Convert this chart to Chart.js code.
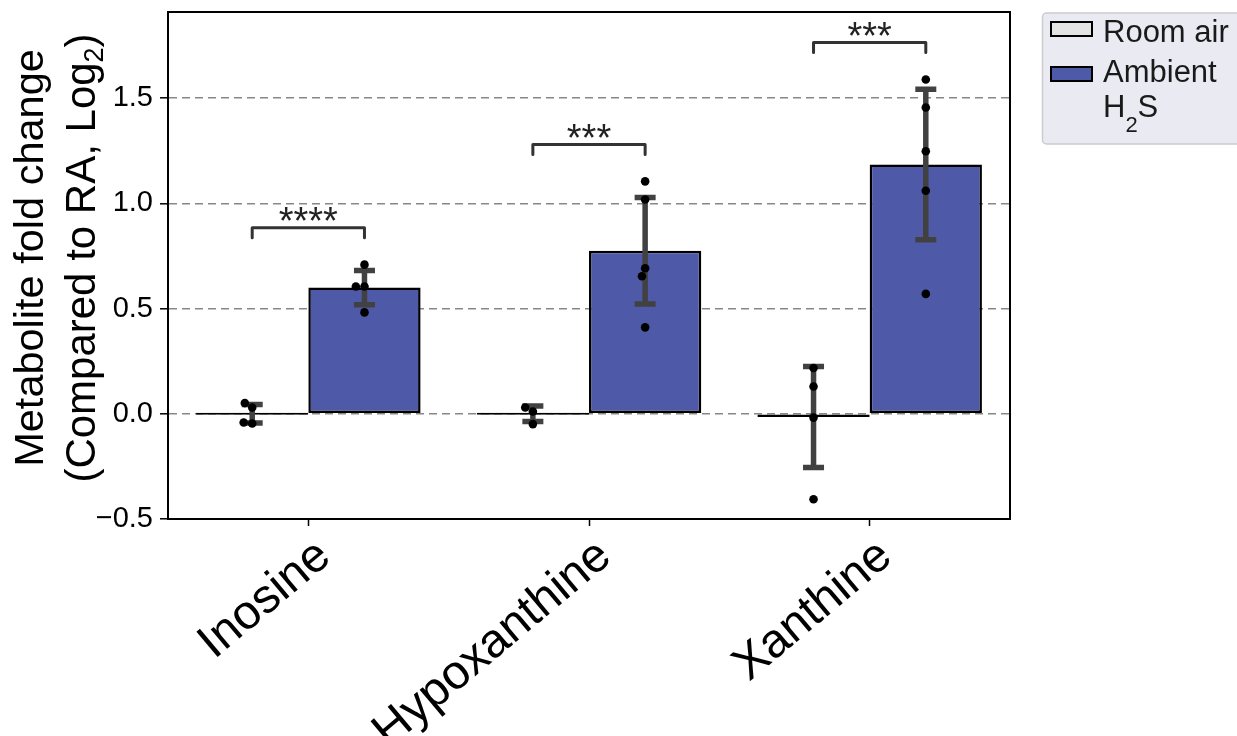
<!DOCTYPE html>
<html><head><meta charset="utf-8">
<script src="https://cdn.jsdelivr.net/npm/chart.js@4.4.1/dist/chart.umd.min.js"></script>
<style>html,body{margin:0;padding:0;background:#fff;}#wrap{width:1237px;height:736px;position:relative;overflow:hidden;}</style>
</head><body><div id="wrap"><canvas id="c" width="1237" height="736"></canvas></div>
<script>
const categories = ['Inosine', 'Hypoxanthine', 'Xanthine'];
const seriesNames = ['Room air', 'Ambient'];
const roomAirMean = [0.0, 0.0, -0.015];
const ambientMean = [0.60, 0.775, 1.185];
const roomAirErr = [0.044, 0.037, 0.24];
const ambientErr = [0.081, 0.253, 0.358];
const roomAirPoints = [[0.030, 0.051, -0.046, -0.041], [0.011, 0.030, -0.049], [0.218, 0.130, -0.018, -0.406]];
const ambientPoints = [[0.709, 0.605, 0.605, 0.482], [1.105, 1.019, 0.692, 0.654, 0.411], [1.589, 1.456, 1.248, 1.060, 0.570]];
const bracketLevels = [0.884, 1.28, 1.765];
const bracketLabels = ['****', '***', '***'];
const yTicks = [-0.5, 0.0, 0.5, 1.0, 1.5];
const yMin = -0.5, yMax = 1.91;

const FONT = 'Liberation Sans, Arial, sans-serif';
const colRoom = '#e3e3e3', colAmb = '#4e5aa8';

function fmt(v) { return (v < 0 ? '\u2212' : '') + Math.abs(v).toFixed(1); }

function swarm(ys, r) {
  const placed = [];
  const out = [];
  ys.forEach(y => {
    const cands = [0];
    for (const p of placed) {
      const dy = Math.abs(p.y - y);
      if (dy < 2 * r) { const dx = Math.sqrt(4 * r * r - dy * dy); cands.push(p.x - dx, p.x + dx); }
    }
    cands.sort((a, b) => Math.abs(a) - Math.abs(b) || a - b);
    let x = 0;
    for (const c of cands) {
      if (placed.every(p => (p.x - c) ** 2 + (p.y - y) ** 2 >= 4 * r * r - 0.01)) { x = c; break; }
    }
    placed.push({x, y}); out.push(x);
  });
  return out;
}

const overlay = {
  id: 'overlay',
  afterDatasetsDraw(chart) {
    const ctx = chart.ctx, ys = chart.scales.y, area = chart.chartArea;
    const groups = [[roomAirMean, roomAirErr, roomAirPoints], [ambientMean, ambientErr, ambientPoints]];
    groups.forEach((g, di) => {
      const meta = chart.getDatasetMeta(di);
      g[0].forEach((m, i) => {
        const x = meta.data[i].x;
        const yt = ys.getPixelForValue(m + g[1][i]), yb = ys.getPixelForValue(m - g[1][i]);
        ctx.save();
        ctx.strokeStyle = '#414141'; ctx.lineWidth = 5.5; ctx.lineCap = 'butt';
        ctx.beginPath(); ctx.moveTo(x, yt); ctx.lineTo(x, yb); ctx.stroke();
        ctx.beginPath(); ctx.moveTo(x - 10.5, yt); ctx.lineTo(x + 10.5, yt); ctx.moveTo(x - 10.5, yb); ctx.lineTo(x + 10.5, yb); ctx.stroke();
        const py = g[2][i].map(v => ys.getPixelForValue(v));
        const offs = swarm(py, 4.3);
        ctx.fillStyle = '#000';
        py.forEach((p, k) => { ctx.beginPath(); ctx.arc(x + offs[k], p, 4.3, 0, Math.PI * 2); ctx.fill(); });
        ctx.restore();
      });
    });
    // significance brackets
    const m0 = chart.getDatasetMeta(0), m1 = chart.getDatasetMeta(1);
    bracketLevels.forEach((lv, i) => {
      const x1 = m0.data[i].x, x2 = m1.data[i].x, y = ys.getPixelForValue(lv);
      ctx.save();
      ctx.strokeStyle = '#333'; ctx.lineWidth = 3; ctx.lineJoin = 'round'; ctx.lineCap = 'round';
      ctx.beginPath(); ctx.moveTo(x1, y + 10); ctx.lineTo(x1, y); ctx.lineTo(x2, y); ctx.lineTo(x2, y + 10); ctx.stroke();
      ctx.fillStyle = '#222'; ctx.font = '38px ' + FONT; ctx.textAlign = 'center'; ctx.textBaseline = 'alphabetic';
      ctx.fillText(bracketLabels[i], (x1 + x2) / 2, y + 6);
      ctx.restore();
    });
    // frame top/right
    ctx.save(); ctx.strokeStyle = '#000'; ctx.lineWidth = 2;
    ctx.beginPath(); ctx.moveTo(area.left - 1, area.top); ctx.lineTo(area.right, area.top); ctx.lineTo(area.right, area.bottom + 1); ctx.stroke();
    ctx.restore();
  },
  afterDraw(chart) {
    const ctx = chart.ctx;
    // y axis title
    ctx.save();
    ctx.fillStyle = '#000'; ctx.textBaseline = 'alphabetic';
    ctx.translate(43, 258); ctx.rotate(-Math.PI / 2);
    ctx.font = '41.5px ' + FONT; ctx.textAlign = 'center';
    ctx.fillText('Metabolite fold change', 0, 0);
    ctx.restore();
    ctx.save();
    ctx.fillStyle = '#000'; ctx.textBaseline = 'alphabetic';
    ctx.translate(95, 258); ctx.rotate(-Math.PI / 2);
    const a = '(Compared to RA, Log', s = '2', b = ')';
    ctx.font = '42px ' + FONT; const wa = ctx.measureText(a).width, wb = ctx.measureText(b).width;
    ctx.font = '27px ' + FONT; const ws = ctx.measureText(s).width;
    let x0 = -(wa + ws + wb) / 2;
    ctx.textAlign = 'left';
    ctx.font = '42px ' + FONT; ctx.fillText(a, x0, 0);
    ctx.font = '27px ' + FONT; ctx.fillText(s, x0 + wa, 8);
    ctx.font = '42px ' + FONT; ctx.fillText(b, x0 + wa + ws, 0);
    ctx.restore();
    // legend
    ctx.save();
    ctx.fillStyle = '#eaeaf2'; ctx.strokeStyle = '#cccccc'; ctx.lineWidth = 1.5;
    ctx.beginPath(); ctx.roundRect(1042.5, 13, 240, 131, 4); ctx.fill(); ctx.stroke();
    ctx.lineWidth = 2; ctx.strokeStyle = '#000';
    ctx.fillStyle = colRoom; ctx.fillRect(1051, 22, 41, 14); ctx.strokeRect(1051, 22, 41, 14);
    ctx.fillStyle = colAmb; ctx.fillRect(1051, 67, 41, 14); ctx.strokeRect(1051, 67, 41, 14);
    ctx.fillStyle = '#1a1a1a'; ctx.textAlign = 'left'; ctx.textBaseline = 'alphabetic';
    ctx.font = '31px ' + FONT;
    ctx.fillText(seriesNames[0], 1103, 42);
    ctx.fillText(seriesNames[1], 1103, 82);
    ctx.fillText('H', 1103, 117);
    const wh = ctx.measureText('H').width;
    ctx.font = '22px ' + FONT; ctx.fillText('2', 1103 + wh, 132);
    const w2 = ctx.measureText('2').width;
    ctx.font = '31px ' + FONT; ctx.fillText('S', 1103 + wh + w2, 117);
    ctx.restore();
  }
};

new Chart(document.getElementById('c'), {
  type: 'bar',
  data: {
    labels: categories,
    datasets: [
      {label: seriesNames[0], data: roomAirMean, backgroundColor: colRoom, borderColor: '#000', borderWidth: 2.5, borderSkipped: false, minBarLength: 2, categoryPercentage: 0.8, barPercentage: 1.0},
      {label: seriesNames[1] + ' H2S', data: ambientMean, backgroundColor: colAmb, borderColor: '#000', borderWidth: 2.5, borderSkipped: false, minBarLength: 2, categoryPercentage: 0.8, barPercentage: 1.0}
    ]
  },
  options: {
    responsive: false, animation: false, devicePixelRatio: 1,
    layout: {padding: {left: 0, top: 12, right: 227, bottom: 0}},
    plugins: {legend: {display: false}, tooltip: {enabled: false}},
    scales: {
      x: {
        grid: {display: true, drawOnChartArea: false, drawTicks: true, tickLength: 7, tickColor: '#000', tickWidth: 1.5, offset: false},
        border: {display: true, color: '#000', width: 2},
        ticks: {font: {family: FONT, size: 48}, color: '#000', minRotation: 40, maxRotation: 40, autoSkip: false, padding: 2, labelOffset: 16},
        afterFit: s => { s.height = 217; s.paddingLeft = 0; s.paddingRight = 0; }
      },
      y: {
        min: yMin, max: yMax,
        afterBuildTicks: s => { s.ticks = yTicks.map(v => ({value: v})); },
        grid: {color: '#878787', lineWidth: 1.6, tickColor: '#000', tickLength: 8, tickWidth: 1.5},
        border: {display: true, color: '#000', width: 2, dash: [8, 5]},
        ticks: {font: {family: FONT, size: 29}, color: '#000', padding: 7, callback: v => fmt(v)},
        afterFit: s => { s.width = 168; s.paddingTop = 0; s.paddingBottom = 0; }
      }
    }
  },
  plugins: [overlay]
});
</script>
</body></html>
